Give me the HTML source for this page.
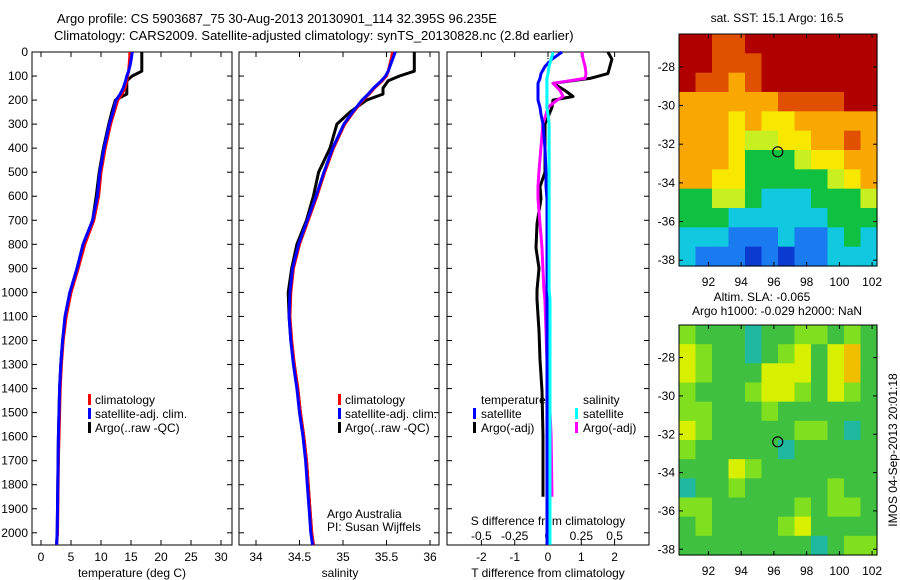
<!DOCTYPE html>
<html><head><meta charset="utf-8">
<style>
html,body{margin:0;padding:0;background:#fff;}
svg{display:block;font-family:"Liberation Sans",sans-serif;font-size:12px;}
</style></head>
<body>
<svg id="fig" width="900" height="580" viewBox="0 0 900 580">
<text x="57" y="23" font-size="13">Argo profile: CS 5903687_75 30-Aug-2013 20130901_114 32.395S 96.235E</text>
<text x="54" y="40" font-size="13">Climatology: CARS2009. Satellite-adjusted climatology: synTS_20130828.nc (2.8d earlier)</text>
<text x="777" y="22" text-anchor="middle">sat. SST: 15.1 Argo: 16.5</text>
<text x="762" y="301" text-anchor="middle">Altim. SLA: -0.065</text>
<text x="777" y="315" text-anchor="middle">Argo h1000: -0.029 h2000: NaN</text>
<text transform="translate(897,450) rotate(-90)" text-anchor="middle">IMOS 04-Sep-2013 20:01:18</text>
<text x="327" y="518">Argo Australia</text>
<text x="327" y="531">PI: Susan Wijffels</text>
<g id="g"></g>
</svg>
<script>
// ---------- data ----------
const depthTicks=[0,100,200,300,400,500,600,700,800,900,1000,1100,1200,1300,1400,1500,1600,1700,1800,1900,2000];
const depthsProf=[0,20,50,80,100,120,150,175,200,250,300,400,500,600,700,800,900,1000,1100,1200,1300,1400,1500,1600,1700,1800,1900,2000,2050];
const tempClim=[14.8,14.8,14.7,14.6,14.4,14.3,14.0,13.5,12.8,12.2,11.6,10.7,10.0,9.6,8.8,7.3,6.2,5.0,4.2,3.7,3.4,3.2,3.1,3.0,2.9,2.85,2.8,2.75,2.6];
const tempSat=[15.2,15.1,14.9,14.6,14.3,14.1,13.7,13.2,12.5,12.0,11.4,10.5,9.8,9.4,8.6,7.0,6.0,4.8,4.0,3.6,3.3,3.1,3.0,2.9,2.85,2.8,2.75,2.7,2.6];
const tempArgo=[16.8,16.8,16.8,16.8,15.2,14.3,14.3,14.3,12.4,11.8,11.3,10.4,9.7,9.2,8.6,7.1,6.0,4.9,4.1,3.6,3.3,3.1,3.0,2.9,2.85,2.8,2.75,2.7,2.6];
const salClim=[35.57,35.56,35.54,35.52,35.5,35.45,35.36,35.3,35.23,35.12,35.02,34.89,34.79,34.70,34.60,34.50,34.43,34.40,34.39,34.41,34.44,34.48,34.51,34.55,34.58,34.60,34.62,34.64,34.66];
const salSat=[35.6,35.58,35.55,35.52,35.49,35.44,35.35,35.29,35.22,35.11,35.01,34.88,34.78,34.69,34.59,34.49,34.42,34.39,34.38,34.40,34.43,34.47,34.50,34.54,34.57,34.59,34.61,34.63,34.65];
const salArgo=[35.82,35.82,35.82,35.82,35.65,35.52,35.46,35.46,35.27,35.08,34.93,34.85,34.72,34.66,34.58,34.47,34.41,34.37,34.38,34.40,34.44,34.48,34.51,34.55,34.58,34.60,34.62,34.64,34.66];
const tempTicks=[0,5,10,15,20,25,30];
const salTicks=[34,34.5,35,35.5,36];
const salTickLabels=["34","34.5","35","35.5","36"];
const diffTTicks=[-2,-1,0,1,2];
const diffSTicks=[-0.5,-0.25,0,0.25,0.5];
const diffSTickLabels=["-0.5","-0.25","0","0.25","0.5"];
const depthsDiff=[0,30,60,90,110,130,160,185,200,230,260,300,400,500,560,610,715,815,900,990,1030,1160,1280,1410,1600,1850];
const dTArgo=[1.8,1.92,1.86,1.8,1.26,0.15,0.51,0.75,0.15,0.12,0.03,-0.09,-0.09,-0.09,-0.24,-0.21,-0.33,-0.36,-0.27,-0.33,-0.33,-0.27,-0.24,-0.18,-0.15,-0.15];
const dTSat=[0.42,0.12,-0.09,-0.21,-0.24,-0.3,-0.3,-0.3,-0.3,-0.24,-0.21,-0.15,-0.09,-0.06,-0.06,-0.03,-0.03,-0.03,-0.03,-0.03,-0.03,-0.03,-0.03,-0.03,-0.03,-0.03];
const dSArgo=[0.255,0.263,0.278,0.285,0.278,0.038,0.09,0.113,0.068,0,-0.015,-0.038,-0.053,-0.068,-0.075,-0.075,-0.06,-0.045,-0.038,-0.03,-0.023,-0.015,-0.008,0.008,0.023,0.03];
const dSSat=[0.038,0.023,0.008,0,-0.008,-0.008,-0.008,-0.008,-0.008,-0.008,0,0.008,0.008,0.008,0.008,0.008,0.008,0.008,0.008,0.008,0.015,0.015,0.015,0.015,0.015,0.015];
const mapLatTicks=[-28,-30,-32,-34,-36,-38];
const mapLonTicks=[92,94,96,98,100,102];
const argoLon=96.235, argoLat=-32.395;
const sstGrid=[
[8,8,7,7,8,8,8,8,8,8,8,8],
[8,8,7,7,7,8,8,8,8,8,8,8],
[8,7,7,6,7,8,8,8,8,8,8,8],
[6,6,6,6,6,6,7,7,7,7,8,8],
[6,6,6,5,6,5,5,6,6,6,6,6],
[6,6,6,5,4,4,5,5,6,6,7,6],
[6,6,6,5,3,3,3,4,5,5,6,6],
[6,6,5,5,3,3,3,3,3,4,5,6],
[3,3,4,4,3,2,2,2,3,3,3,4],
[3,3,3,2,2,2,2,2,2,3,3,3],
[2,2,2,1,1,1,2,1,1,2,3,2],
[2,1,1,1,0,1,0,1,1,2,2,2]];
const slaGrid=[
[2,1,1,1,0,1,1,2,2,1,2,1],
[3,2,1,1,0,1,2,3,1,3,4,1],
[3,2,1,1,1,3,3,3,1,3,4,1],
[2,1,1,1,2,3,3,2,1,3,2,1],
[2,2,1,1,1,2,1,1,1,1,1,1],
[3,2,1,1,1,1,1,2,2,1,0,1],
[2,1,1,1,1,1,0,1,1,1,1,1],
[1,1,1,3,2,1,1,1,1,1,1,1],
[0,1,1,2,1,1,1,1,1,2,1,1],
[2,2,1,1,1,1,1,2,1,2,2,1],
[1,2,1,1,1,1,2,3,1,1,1,1],
[1,1,1,1,1,1,1,1,0,1,2,2]];
const sstColors=["#0a3ad0","#1a7af0","#10c8e0","#10c040","#c8f020","#f8e800","#f8a800","#e05000","#b00000"];
const slaColors=["#20b8a0","#40c040","#80e020","#d8f000","#f0c000"];

// ---------- helpers ----------
const NS="http://www.w3.org/2000/svg";
const G=document.getElementById('g');
function mk(tag,attrs,parent){const e=document.createElementNS(NS,tag);for(const k in attrs)e.setAttribute(k,attrs[k]);(parent||G).appendChild(e);return e;}
const yD=d=>52+d*0.2404;
const PT={x0:32,x1:232}, PS={x0:239,x1:439}, PD={x0:447,x1:649};
const xT=t=>41+6*t;
const xS=s=>256+87*(s-34);
const xDT=t=>548+33.3*t;
const xDS=s=>548+133.3*s;

function frame(p,name){
  const r=mk('rect',{x:p.x0,y:52,width:p.x1-p.x0,height:493,fill:'none',stroke:'#000','stroke-width':1});
  
  
  depthTicks.forEach(d=>{
    const y=yD(d);
    mk('line',{x1:p.x0,x2:p.x0+5,y1:y,y2:y,stroke:'#000'});
    mk('line',{x1:p.x1,x2:p.x1-5,y1:y,y2:y,stroke:'#000'});
  });
}
function xticks(vals,labels,fx,ylab,name,top){
  vals.forEach((v,i)=>{
    const x=fx(v);
    mk('line',{x1:x,x2:x,y1:545,y2:540,stroke:'#000'});
    if(top)mk('line',{x1:x,x2:x,y1:52,y2:57,stroke:'#000'});
    const t=mk('text',{x:x,y:ylab,'text-anchor':'middle'});t.textContent=labels[i];
    
    
  });
}
function line(xs,ds,fx,color,w,name){
  const pts=xs.map((v,i)=>fx(v).toFixed(1)+','+yD(ds[i]).toFixed(1)).join(' ');
  const pl=mk('polyline',{points:pts,fill:'none',stroke:color,'stroke-width':w,'stroke-linejoin':'round'});
  
  
}
function label(x,y,txt,name,anchor){
  const t=mk('text',{x:x,y:y,'text-anchor':anchor||'start'});t.textContent=txt;
  
  
}
function legendBar(x,y,color,name){
  const r=mk('rect',{x:x,y:y-10,width:3,height:11,fill:color});
  
  
}

// depth tick labels
depthTicks.forEach(d=>{
  const t=mk('text',{x:28,y:yD(d)+4,'text-anchor':'end'});t.textContent=d;
  
  
});

// panel 1 temperature
frame(PT,'temperature-panel-frame');
xticks(tempTicks,tempTicks.map(String),xT,561,'temperature-tick-label',true);
label(132,577,'temperature (deg C)','temperature-axis-title','middle');
line(tempArgo,depthsProf,xT,'#000',3,'temperature-argo-line');
line(tempClim,depthsProf,xT,'#f00',3,'temperature-climatology-line');
line(tempSat,depthsProf,xT,'#00f',3,'temperature-satellite-line');
legendBar(88,404,'#f00','legend-climatology-swatch');label(95,404,'climatology','legend-climatology');
legendBar(88,418,'#00f','legend-satellite-swatch');label(95,418,'satellite-adj. clim.','legend-satellite');
legendBar(88,432,'#000','legend-argo-swatch');label(95,432,'Argo(..raw -QC)','legend-argo');

// panel 2 salinity
frame(PS,'salinity-panel-frame');
xticks(salTicks,salTickLabels,xS,561,'salinity-tick-label',true);
label(340,577,'salinity','salinity-axis-title','middle');
line(salArgo,depthsProf,xS,'#000',3,'salinity-argo-line');
line(salClim,depthsProf,xS,'#f00',3,'salinity-climatology-line');
line(salSat,depthsProf,xS,'#00f',3,'salinity-satellite-line');
legendBar(338,404,'#f00','legend2-climatology-swatch');label(345,404,'climatology','legend2-climatology');
legendBar(338,418,'#00f','legend2-satellite-swatch');label(345,418,'satellite-adj. clim.','legend2-satellite');
legendBar(338,432,'#000','legend2-argo-swatch');label(345,432,'Argo(..raw -QC)','legend2-argo');

// panel 3 differences
frame(PD,'difference-panel-frame');
xticks(diffTTicks,diffTTicks.map(String),xDT,561,'t-diff-tick-label',true);
diffSTicks.forEach((v,i)=>{label(xDS(v),540,diffSTickLabels[i],'s-diff-tick-label','middle');});
label(548,525,'S difference from climatology','s-diff-axis-title','middle');
label(548,577,'T difference from climatology','t-diff-axis-title','middle');
mk('line',{x1:548,x2:548,y1:52,y2:545,stroke:'#000','stroke-dasharray':'1,2'});
line(dTArgo,depthsDiff,xDT,'#000',3,'t-diff-argo-line');
line(dSArgo,depthsDiff,xDS,'#f0f',3,'s-diff-argo-line');
line(dTSat.concat([-0.03]),depthsDiff.concat([2050]),xDT,'#00f',3,'t-diff-satellite-line');
line(dSSat.concat([0.015]),depthsDiff.concat([2050]),xDS,'#0ff',3,'s-diff-satellite-line');
label(481,404,'temperature','legend3-temperature-heading');
legendBar(473,418,'#00f','legend3-t-satellite-swatch');label(481,418,'satellite','legend3-t-satellite');
legendBar(473,432,'#000','legend3-t-argo-swatch');label(481,432,'Argo(-adj)','legend3-t-argo');
label(583,404,'salinity','legend3-salinity-heading');
legendBar(575,418,'#0ff','legend3-s-satellite-swatch');label(583,418,'satellite','legend3-s-satellite');
legendBar(575,432,'#f0f','legend3-s-argo-swatch');label(583,432,'Argo(-adj)','legend3-s-argo');

// maps
function map(grid,colors,y0,y1,name,lab40,lab28){
  const x0=679,x1=877,lonMin=90.2,lonMax=102.3,latTop=-26.3,latBot=-38.3;
  const fx=lon=>x0+(lon-lonMin)/(lonMax-lonMin)*(x1-x0);
  const fy=lat=>y0+(latTop-lat)/(latTop-latBot)*(y1-y0);
  const rows=grid.length,cols=grid[0].length;
  const cw=(x1-x0)/cols,ch=(y1-y0)/rows;
  grid.forEach((row,r)=>row.forEach((v,c)=>{
    const cell=mk('rect',{x:x0+c*cw,y:y0+r*ch,width:cw+0.6,height:ch+0.6,fill:colors[v]});
    
    
  }));
  const fr=mk('rect',{x:x0,y:y0,width:x1-x0,height:y1-y0,fill:'none',stroke:'#000'});
  
  
  mapLatTicks.forEach(l=>{const y=fy(l);
    mk('line',{x1:x0,x2:x0+4,y1:y,y2:y,stroke:'#000'});mk('line',{x1:x1,x2:x1-4,y1:y,y2:y,stroke:'#000'});
    label(x0-4,y+4,String(l),name+'-lat-label','end');});
  mapLonTicks.forEach(l=>{const x=fx(l);
    mk('line',{x1:x,x2:x,y1:y1,y2:y1-4,stroke:'#000'});mk('line',{x1:x,x2:x,y1:y0,y2:y0+4,stroke:'#000'});
    label(x,y1+20,String(l),name+'-lon-label','middle');});
  const c=mk('circle',{cx:fx(argoLon),cy:fy(argoLat),r:5,fill:'none',stroke:'#000','stroke-width':1.2});
  
  
}
map(sstGrid,sstColors,34,266,'sst-map');
map(slaGrid,slaColors,325,555,'sla-map');
</script>
</body></html>
